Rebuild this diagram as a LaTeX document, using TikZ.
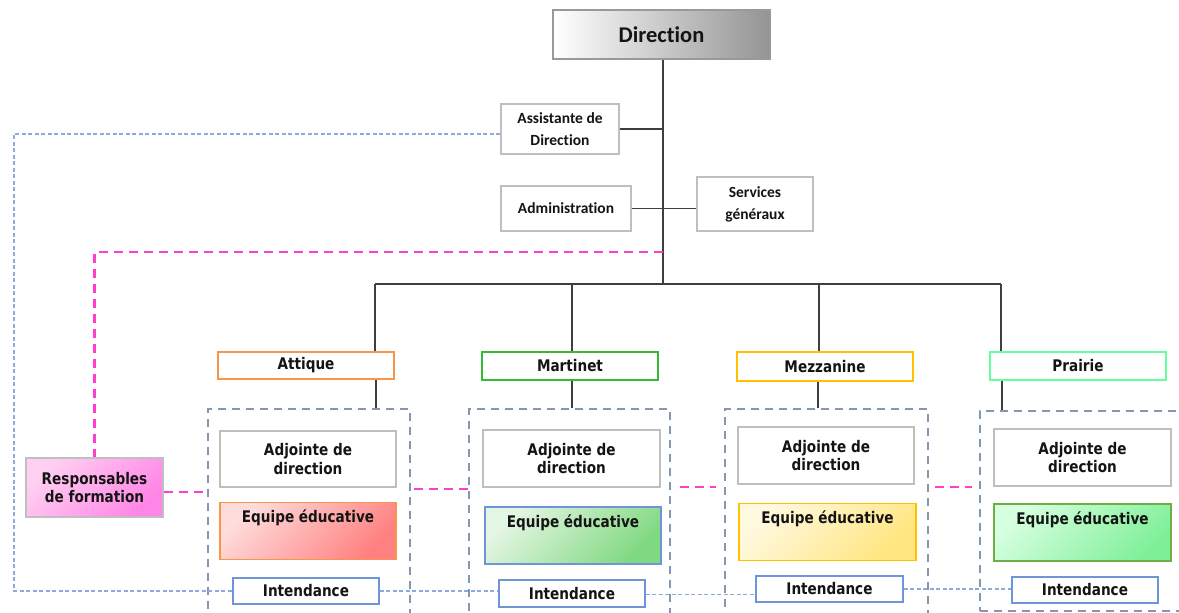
\documentclass[tikz,border=0pt]{standalone}
\usepackage{fontspec}
\setmainfont{DejaVu Sans}[FakeStretch=0.85]
\newfontfamily\calfont{Carlito}[Ligatures={NoCommon,NoRare,NoDiscretionary}]
\usetikzlibrary{calc}
\definecolor{txt}{HTML}{141414}
\definecolor{graybd}{HTML}{BFBFBF}
\definecolor{conn}{HTML}{3F3F3F}
\definecolor{pinkline}{HTML}{FF3FCC}
\definecolor{blueline}{HTML}{8FAADC}
\definecolor{contline}{HTML}{8497B0}
\definecolor{intbd}{HTML}{6F95D8}
\definecolor{attbd}{HTML}{F79646}
\definecolor{marbd}{HTML}{33BB33}
\definecolor{mezbd}{HTML}{FFC000}
\definecolor{prabd}{HTML}{66FF99}
\definecolor{eqPbd}{HTML}{70AD47}
\definecolor{eqAlo}{HTML}{FFDCDC}
\definecolor{eqAhi}{HTML}{FF8080}
\definecolor{eqMlo}{HTML}{E4F6E4}
\definecolor{eqMhi}{HTML}{80D880}
\definecolor{eqZlo}{HTML}{FFF9E0}
\definecolor{eqZhi}{HTML}{FFE680}
\definecolor{eqPlo}{HTML}{D6FFE0}
\definecolor{eqPhi}{HTML}{80F098}
\definecolor{resplo}{HTML}{FFD0F2}
\definecolor{resphi}{HTML}{FF85E6}
\tikzset{
  bx/.style={draw=#1, rectangle, inner sep=0pt, line width=1.2pt, align=center, text=txt},
  topfont/.style={font=\calfont\bfseries\fontsize{15.5}{22}\selectfont},
  lowfont/.style={font=\bfseries\fontsize{16}{18.3}\selectfont},
  topbox/.style={bx=graybd, topfont},
  sitebox/.style={bx=#1, lowfont, minimum width=176, minimum height=28},
  adjbox/.style={bx=graybd, lowfont, minimum width=176, minimum height=57},
  eqbox/.style={bx=#1, lowfont, minimum width=176, minimum height=57, text height=20.2pt, text depth=36.8pt},
  intbox/.style={bx=intbd, lowfont, minimum width=146, minimum height=26},
  contbox/.style={draw=contline, line width=2.4pt, dash pattern=on 8pt off 6pt, rectangle, inner sep=0pt},
  conline/.style={draw=conn, line width=1.2pt},
  pinkdash/.style={draw=pinkline, line width=2.5pt, dash pattern=on 9pt off 6pt},
  bluedot/.style={draw=blueline, line width=1.8pt, dash pattern=on 4pt off 2.5pt},
}
\begin{document}
\begin{tikzpicture}[x=1pt,y=-1pt]
\clip (0,0) rectangle (1179,613);
\fill[white] (0,0) rectangle (1179,613);

% top
\node[bx=black!40, minimum width=217, minimum height=49, left color=white, right color=black!42,
      font=\calfont\bfseries\fontsize{22.5}{26}\selectfont] (dir) at (661.5,34.5) {Direction};
\node[topbox, minimum width=118, minimum height=50] (assist) at (560,129) {Assistante de\\Direction};
\node[topbox, minimum width=130, minimum height=45] (admin) at (566,208.5) {Administration};
\node[topbox, minimum width=116, minimum height=54] (serv) at (755,204) {Services\\généraux};

% responsables
\node[bx=graybd, lowfont, minimum width=137, minimum height=59, top color=resplo, bottom color=resphi, shading angle=45] (resp) at (94.5,487.5) {Responsables\\de formation};

% sites
\node[sitebox=attbd, minimum height=27] (att) at (306,365.5) {Attique};
\node[sitebox=marbd] (mar) at (570,366) {Martinet};
\node[sitebox=mezbd, minimum height=29] (mez) at (825,366.5) {Mezzanine};
\node[sitebox=prabd] (pra) at (1078,366) {Prairie};

% containers
\node[contbox, minimum width=202, minimum height=300, anchor=north west] (cA) at (207,408) {};
\node[contbox, minimum width=201, minimum height=300, anchor=north west] (cM) at (468,408) {};
\node[contbox, minimum width=203, minimum height=300, anchor=north west] (cZ) at (724,408) {};
\node[contbox, minimum width=320, minimum height=200, anchor=north west] (cP) at (979,410) {};

% adjointes
\node[adjbox, minimum height=56] (adjA) at (308,459) {Adjointe de\\direction};
\node[adjbox, minimum width=177] (adjM) at (571.5,458.5) {Adjointe de\\direction};
\node[adjbox] (adjZ) at (826,455.5) {Adjointe de\\direction};
\node[adjbox, minimum width=177] (adjP) at (1082.5,457.5) {Adjointe de\\direction};

% equipes
\node[eqbox=attbd, top color=eqAlo, bottom color=eqAhi, shading angle=45] (eqA) at (308,531) {Equipe éducative};
\node[eqbox=intbd, top color=eqMlo, bottom color=eqMhi, shading angle=45] (eqM) at (573,535.5) {Equipe éducative};
\node[eqbox=mezbd, minimum width=177, top color=eqZlo, bottom color=eqZhi, shading angle=45] (eqZ) at (827.5,532) {Equipe éducative};
\node[eqbox=eqPbd, minimum width=177, top color=eqPlo, bottom color=eqPhi, shading angle=45] (eqP) at (1082.5,532.5) {Equipe éducative};

% intendances
\node[intbox] (intA) at (306,591) {Intendance};
\node[intbox, minimum height=27] (intM) at (572,593.5) {Intendance};
\node[intbox, minimum width=147] (intZ) at (829.5,589) {Intendance};
\node[intbox] (intP) at (1085,590) {Intendance};

% hierarchy lines
\coordinate (trunk) at (663,284);
\coordinate (busA) at (375,284);
\coordinate (busM) at (572,284);
\coordinate (busZ) at (819,284);
\coordinate (busP) at (1001,284);
\draw[conline] (dir.south -| trunk) -- (trunk);
\draw[conline] (busA) -- (busP);
\draw[conline] (assist.east) -- (assist.east -| trunk);
\draw[conline] (admin.east) -- (admin.east -| serv.west);
\draw[conline] (busA) -- (busA |- att.north);
\draw[conline] (busM) -- (busM |- mar.north);
\draw[conline] (busZ) -- (busZ |- mez.north);
\draw[conline] (busP) -- (busP |- pra.north);
\draw[conline] ([xshift=1]busA |- att.south) -- ([xshift=1]busA |- cA.north);
\draw[conline] (busM |- mar.south) -- (busM |- cM.north);
\draw[conline] ([xshift=-1]busZ |- mez.south) -- ([xshift=-1]busZ |- cZ.north);
\draw[conline] ([xshift=1]busP |- pra.south) -- ([xshift=1]busP |- cP.north);

% pink dashed links
\coordinate (pk) at (663,252);
\draw[pinkdash] (pk) -- (pk -| resp.north) -- (resp.north);
\draw[pinkdash] (resp.east |- 0,492) -- (cA.west |- 0,492);
\draw[pinkdash] ($(cA.east |- 0,489)+(3,0)$) -- (cM.west |- 0,489);
\draw[pinkdash] ($(cM.east |- 0,487)+(9,0)$) -- ($(cZ.west |- 0,487)+(-8,0)$);
\draw[pinkdash] ($(cZ.east |- 0,487)+(6,0)$) -- ($(cP.west |- 0,487)+(-7,0)$);

% blue dotted links
\coordinate (bl) at (14,134);
\draw[bluedot] (assist.west |- bl) -- (bl) -- (bl |- intA.west) -- (intA.west);
\draw[bluedot] (intA.east) -- (intA.east -| intM.west);
\draw[bluedot] ([yshift=-1]intM.east) -- ([yshift=-1]intM.east -| intZ.west);
\draw[bluedot] (intZ.east) -- (intZ.east -| intP.west);
\end{tikzpicture}
\end{document}
